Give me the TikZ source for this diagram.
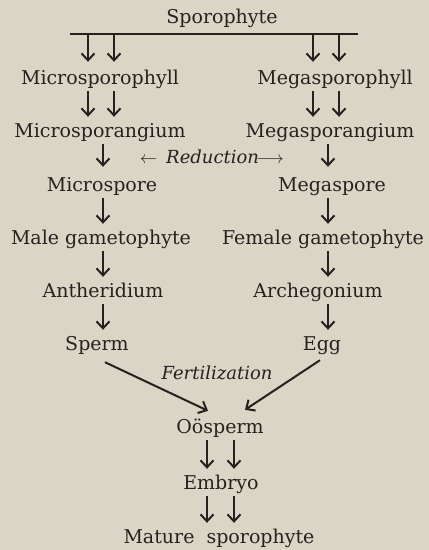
\documentclass[tikz,border=0pt]{standalone}
\usepackage{fontspec}
\setmainfont{DejaVu Serif}
\usetikzlibrary{arrows.meta}
\definecolor{paper}{RGB}{218,213,197}
\definecolor{ink}{RGB}{38,33,30}
\tikzset{
  stage/.style={anchor=base, text=ink, font=\fontsize{19}{24}\selectfont,
    inner sep=1pt, text height=14pt, text depth=5pt},
  note/.style={stage, font=\fontsize{18}{24}\selectfont\itshape},
  down/.style={draw=ink, line width=2pt, shorten <=1pt, shorten >=5pt,
    -{Straight Barb[length=7pt,width=13pt,line width=2pt]}},
}
\begin{document}
\begin{tikzpicture}[x=1pt,y=-1pt]
  % page
  \fill[paper] (0,0) rectangle (429,550);
  \useasboundingbox (0,0) rectangle (429,550);

  % columns of the arrows
  \coordinate (cA) at (88,0);
  \coordinate (cB) at (114,0);
  \coordinate (cC) at (313,0);
  \coordinate (cD) at (339,0);
  \coordinate (cL) at (103,0);
  \coordinate (cR) at (328,0);
  \coordinate (cE) at (207,0);
  \coordinate (cF) at (234,0);

  % stages
  \node[stage] (spo)   at (222,23)  {Sporophyte};
  \node[stage] (msph)  at (100,84)  {Microsporophyll};
  \node[stage] (Msph)  at (335,84)  {Megasporophyll};
  \node[stage] (mspg)  at (100,137) {Microsporangium};
  \node[stage] (Mspg)  at (330,137) {Megasporangium};
  \node[note]  (red)   at (212,163) {$\leftarrow$\enspace Reduction$\!\longrightarrow$};
  \node[stage] (mspo)  at (102,191) {Microspore};
  \node[stage] (Mspo)  at (332,191) {Megaspore};
  \node[stage] (mgam)  at (101,244) {Male gametophyte};
  \node[stage] (fgam)  at (323,244) {Female gametophyte};
  \node[stage] (anth)  at (103,297) {Antheridium};
  \node[stage] (arch)  at (318,297) {Archegonium};
  \node[stage] (sperm) at (97,350)  {Sperm};
  \node[stage] (egg)   at (322,350) {Egg};
  \node[note]  (fert)  at (217,379) {Fertilization};
  \node[stage] (oos)   at (220,433) {O\"osperm};
  \node[stage] (emb)   at (221,489) {Embryo};
  \node[stage] (mat)   at (219,543) {Mature\ \ sporophyte};

  % bar under the sporophyte
  \coordinate (barl) at (70,34);
  \coordinate (barr) at (358,34);
  \draw[ink, line width=2pt] (barl) -- (barr);

  % double arrows
  \draw[down, shorten >=7pt] (cA |- barl) -- (cA |- msph.north);
  \draw[down, shorten >=7pt] (cB |- barl) -- (cB |- msph.north);
  \draw[down, shorten >=7pt] (cC |- barl) -- (cC |- Msph.north);
  \draw[down, shorten >=7pt] (cD |- barl) -- (cD |- Msph.north);
  \draw[down] (cA |- msph.south) -- (cA |- mspg.north);
  \draw[down] (cB |- msph.south) -- (cB |- mspg.north);
  \draw[down] (cC |- Msph.south) -- (cC |- Mspg.north);
  \draw[down] (cD |- Msph.south) -- (cD |- Mspg.north);

  % single arrows
  \draw[down, shorten >=9pt] (cL |- mspg.south) -- (cL |- mspo.north);
  \draw[down, shorten >=9pt] (cR |- Mspg.south) -- (cR |- Mspo.north);
  \draw[down] (cL |- mspo.south) -- (cL |- mgam.north);
  \draw[down] (cR |- Mspo.south) -- (cR |- fgam.north);
  \draw[down] (cL |- mgam.south) -- (cL |- anth.north);
  \draw[down] (cR |- fgam.south) -- (cR |- arch.north);
  \draw[down] (cL |- anth.south) -- (cL |- sperm.north);
  \draw[down] (cR |- arch.south) -- (cR |- egg.north);

  % fertilization
  \draw[down, shorten <=0pt, shorten >=0pt] ([xshift=8pt,yshift=-6pt]sperm.south) -- ([xshift=-12pt,yshift=7pt]oos.north);
  \draw[down, shorten <=0pt, shorten >=0pt] ([xshift=-2pt,yshift=-4pt]egg.south) -- ([xshift=25pt,yshift=8pt]oos.north);

  % to the new sporophyte
  \draw[down] (cE |- oos.south) -- (cE |- emb.north);
  \draw[down] (cF |- oos.south) -- (cF |- emb.north);
  \draw[down] (cE |- emb.south) -- (cE |- mat.north);
  \draw[down] (cF |- emb.south) -- (cF |- mat.north);
\end{tikzpicture}
\end{document}
